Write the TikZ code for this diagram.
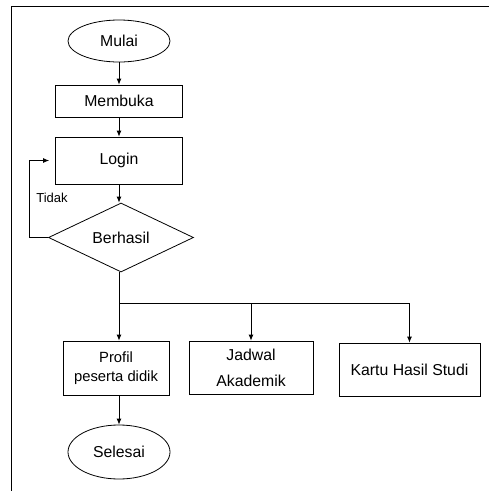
\documentclass[tikz,border=0pt]{standalone}
\usepackage{fontspec}
\setmainfont{Liberation Sans}
\usetikzlibrary{shapes.geometric,arrows.meta}

\begin{document}
\begin{tikzpicture}[x=1pt,y=-1pt,line width=0.8pt,
    font=\fontsize{15.8}{18}\selectfont,
    term/.style={draw,ellipse,minimum width=102pt,inner sep=0pt},
    proc/.style={draw,rectangle,inner sep=0pt,align=center},
    dec/.style={draw,diamond,minimum width=145pt,minimum height=69pt,inner sep=0pt},
    arr/.style={-{Latex[length=6pt,width=5pt]}}]
  \useasboundingbox (0,0) rectangle (489,491);
  \draw (489,6) -- (11,6) -- (11,491);
  \node[term,minimum height=42pt] (mulai) at (119,41) {Mulai};
  \node[proc,minimum width=127pt,minimum height=32pt] (membuka) at (119,101) {Membuka};
  \node[proc,minimum width=127pt,minimum height=47pt] (login) at (119,160.5) {Login};
  \node[dec] (berhasil) at (121,237.5) {Berhasil};
  \node[font=\fontsize{13}{15}\selectfont] (tidak) at (52,198) {Tidak};
  \coordinate (loopc) at (29,160.5);
  \coordinate (split) at (119,303);
  \node[proc,minimum width=106pt,minimum height=54pt,font=\fontsize{14.8}{17}\selectfont]
    (profil) at (116,368) {Profil\\[2pt]peserta didik};
  \node[proc,minimum width=124pt,minimum height=53pt] (jadwal) at (251,367.5) {Jadwal\\[8pt]Akademik};
  \node[proc,minimum width=141pt,minimum height=53pt] (kartu) at (409.5,369.5) {Kartu Hasil Studi};
  \node[term,minimum height=54pt] (selesai) at (119,452) {Selesai};
  \draw[arr] (mulai) -- (membuka);
  \draw[arr] (membuka) -- (login);
  \draw[arr] (login.south) -- (login.south |- berhasil.north);
  \draw[arr,shorten >=6pt] (berhasil.west) -- (berhasil.west -| loopc) |- (login.west);
  \draw (split |- berhasil.south) -- (split);
  \draw[arr] (split) -- (split |- profil.north);
  \draw[arr] (split -| jadwal.north) -- (jadwal.north);
  \draw[arr] (split) -| (kartu.north);
  \draw[arr] (split |- profil.south) -- (selesai.north);
\end{tikzpicture}
\end{document}
